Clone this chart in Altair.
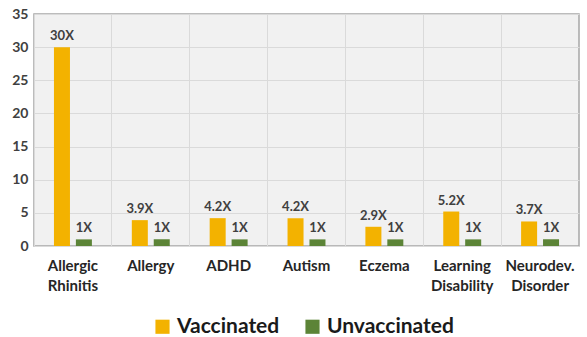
import altair as alt
import pandas as pd

categories = ["Allergic Rhinitis", "Allergy", "ADHD", "Autism", "Eczema",
              "Learning Disability", "Neurodev. Disorder"]
vaccinated = [30, 3.9, 4.2, 4.2, 2.9, 5.2, 3.7]
unvaccinated = [1, 1, 1, 1, 1, 1, 1]
groups = ["Vaccinated", "Unvaccinated"]
colors = ["#F3B200", "#5C8437"]
y_ticks = [0, 5, 10, 15, 20, 25, 30, 35]

rows = []
for c, v, u in zip(categories, vaccinated, unvaccinated):
    rows.append({"cat": c, "group": groups[0], "value": v, "label": f"{v:g}X"})
    rows.append({"cat": c, "group": groups[1], "value": u, "label": f"{u:g}X"})
df = pd.DataFrame(rows)

FONT = "Lato"

x = alt.X("cat:N", sort=categories, title=None,
          scale=alt.Scale(paddingInner=0, paddingOuter=0),
          axis=alt.Axis(labelAngle=0, labelExpr="split(datum.label, ' ')",
                        labelFontSize=15, labelFontWeight="bold", labelColor="#262626",
                        labelPadding=12, labelLineHeight=20, ticks=False, domain=False,
                        grid=True, gridColor="#dadada", bandPosition=0, labelFont=FONT))
xo = alt.XOffset("group:N", sort=groups,
                 scale=alt.Scale(paddingInner=0.27, paddingOuter=0.91))
y = alt.Y("value:Q", title=None,
          scale=alt.Scale(domain=[0, 35], nice=False),
          axis=alt.Axis(values=y_ticks, tickCount=8, labelOverlap=False,
                        labelFontSize=14,
                        labelFontWeight="bold", labelColor="#404040", labelPadding=6,
                        ticks=False, domain=False, gridColor="#dadada", labelFont=FONT))

color = alt.Color("group:N", sort=groups,
                  scale=alt.Scale(domain=groups, range=colors),
                  legend=alt.Legend(title=None, orient="none", direction="horizontal",
                                    legendX=118, legendY=302,
                                    symbolType="square", symbolSize=200,
                                    symbolStrokeWidth=0, labelFontSize=21,
                                    labelFontWeight="bold", labelColor="#1a1a1a",
                                    labelFont=FONT, columnPadding=22, labelOffset=4))

bars = alt.Chart(df).mark_bar().encode(x=x, xOffset=xo, y=y, color=color)
text = alt.Chart(df).mark_text(dy=-11, fontSize=13, fontWeight="bold",
                               color="#404040", font=FONT).encode(
    x=alt.X("cat:N", sort=categories), xOffset=xo, y="value:Q", text="label:N")

chart = alt.layer(bars, text).properties(
    width=545, height=232,
    autosize=alt.AutoSizeParams(type="none"),
    padding={"left": 34, "top": 14, "right": 8, "bottom": 91},
    background="white",
).configure_view(fill="#f1f1f1", stroke="#a6a6a6", strokeWidth=1.5)

chart.save("out.html", embed_options={"renderer": "svg", "actions": False})
